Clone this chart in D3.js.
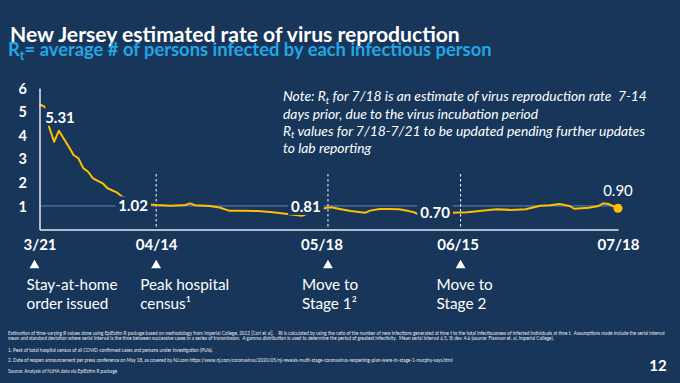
<!DOCTYPE html>
<html><head><meta charset="utf-8">
<script src="https://cdn.jsdelivr.net/npm/d3@7"></script>
<style>
html,body{margin:0;padding:0;background:#17365a;overflow:hidden;}
svg{display:block;font-family:Lato,"Open Sans",sans-serif;}
text{white-space:pre;}
</style></head><body>
<svg id="c" width="680" height="383"></svg>
<script>
// ---------- DATA ----------
const dates = ["2020-03-21","2020-03-22","2020-03-23","2020-03-24","2020-03-25","2020-03-26","2020-03-27","2020-03-28","2020-03-29","2020-03-30","2020-03-31","2020-04-01",
"2020-04-03","2020-04-04","2020-04-06","2020-04-07","2020-04-09","2020-04-11","2020-04-13","2020-04-14",
"2020-04-17","2020-04-20","2020-04-21","2020-04-22","2020-04-25","2020-04-27","2020-04-29",
"2020-05-02","2020-05-05","2020-05-08","2020-05-11","2020-05-14","2020-05-16","2020-05-19","2020-05-20","2020-05-22","2020-05-24","2020-05-27","2020-05-28","2020-05-30",
"2020-06-01","2020-06-03","2020-06-05","2020-06-06","2020-06-07","2020-06-10","2020-06-12","2020-06-14","2020-06-17","2020-06-20","2020-06-23","2020-06-26","2020-06-29",
"2020-07-02","2020-07-04","2020-07-06","2020-07-08","2020-07-09","2020-07-12","2020-07-14","2020-07-15","2020-07-16","2020-07-18"];
const rtValues = [5.31,5.21,4.33,3.72,4.19,3.85,3.52,3.16,3.02,2.60,2.45,2.17,
1.96,1.75,1.56,1.39,1.25,1.14,1.06,1.04,
1.01,1.04,1.11,1.03,1.00,0.93,0.80,
0.80,0.78,0.73,0.66,0.58,0.75,0.92,0.94,0.86,0.78,0.71,0.80,0.87,
0.87,0.86,0.78,0.73,0.64,0.62,0.67,0.71,0.73,0.80,0.86,0.83,0.86,
1.01,1.03,1.08,1.00,0.88,0.92,1.00,1.11,1.08,0.90];
const yTicks = [1,2,3,4,5,6];
const xTickDates = ["2020-03-21","2020-04-14","2020-05-18","2020-06-15","2020-07-18"];
const xTickLabels = ["3/21","04/14","05/18","06/15","07/18"];
const calloutDates = ["2020-03-21","2020-04-14","2020-05-18","2020-06-15","2020-07-18"];
const calloutValues = [5.31,1.02,0.81,0.70,0.90];
const eventDates = ["2020-03-21","2020-04-14","2020-05-18","2020-06-15"];
const eventLines = [["Stay-at-home","order issued"],["Peak hospital","census¹"],["Move to","Stage 1²"],["Move to","Stage 2"]];
const referenceValue = 1;
const titleText = "New Jersey estimated rate of virus reproduction";
const subtitleText = "= average # of persons infected by each infectious person";
const noteLines = [
  ["Note: R","t"," for 7/18 is an estimate of virus reproduction rate  7-14"],
  ["days prior, due to the virus incubation period"],
  ["R","t"," values for 7/18-7/21 to be updated pending further updates"],
  ["to lab reporting"]
];
const footnotes = [
"Estimation of time-varying R values done using EpiEstim R package based on methodology from Imperial College, 2013 [Cori et al].    Rt is calculated by using the ratio of the number of new infections generated at time t to the total infectiousness of infected individuals at time t.  Assumptions made include the serial interval",
"mean and standard deviation where serial interval is the time between successive cases in a series of transmission.  A gamma distribution is used to determine the period of greatest infectivity.  Mean serial interval 6.5, St dev. 4.6 (source: Flaxman et. al, Imperial College).",
"1. Peak of total hospital census of all COVID-confirmed cases and persons under investigation (PUIs).",
"2. Date of reopen announcement per press conference on May 18, as covered by NJ.com https://www.nj.com/coronavirus/2020/05/nj-reveals-multi-stage-coronavirus-reopening-plan-were-in-stage-1-murphy-says.html",
"Source: Analysis of NJHA data via EpiEstim R package"
];
const pageNumber = "12";

// ---------- LAYOUT / STYLE ----------
const BG = "#17365a", YELLOW = "#ffc000", REF = "#3f6496", AXIS = "#e3e9f0", SUB = "#22a6e6";
const parse = d3.timeParse("%Y-%m-%d");
const series = dates.map((d,i)=>({date:parse(d), v:rtValues[i]}));
const svg = d3.select("#c");
svg.append("rect").attr("width",680).attr("height",383).attr("fill",BG);

const x = d3.scaleTime().domain([parse("2020-03-21"), parse("2020-07-18")]).range([39.5, 618]);
const y = d3.scaleLinear().domain([0,6]).range([229.5, 88]);

function fit(sel, target){
  const w = sel.node().getComputedTextLength();
  const fs = parseFloat(sel.attr("font-size"));
  sel.attr("font-size", (fs*target/w).toFixed(2));
}
// append "R" + subscript "t" + rest using dy shifts
function withSub(t, parts){
  parts.forEach((p,j)=>{
    const ts = t.append("tspan").text(p);
    if(parts.length===3 && j===1) ts.attr("font-size","0.7em").attr("dy","0.3em");
    if(parts.length===3 && j===2) ts.attr("dy","-0.21em");
  });
}

// title
const t1 = svg.append("text").attr("x",10).attr("y",42).attr("fill","#fff")
  .attr("font-weight",700).attr("font-size",22).text(titleText);
fit(t1, 450);
const t2 = svg.append("text").attr("x",8).attr("y",56).attr("fill",SUB)
  .attr("font-weight",700).attr("font-size",20);
withSub(t2, ["R","t",subtitleText]);
fit(t2, 484);

// note
const noteY = [101,118.5,135.5,152.5];
let noteFs = 14;
noteLines.forEach((parts,i)=>{
  const t = svg.append("text").attr("x",283).attr("y",noteY[i]).attr("fill","#fff")
    .attr("font-style","italic").attr("font-size",noteFs);
  withSub(t, parts);
  if(i===0){ fit(t,364); noteFs = +t.attr("font-size"); }
});

// reference line at 1
svg.append("line").attr("x1",x.range()[0]).attr("x2",x.range()[1])
  .attr("y1",y(referenceValue)).attr("y2",y(referenceValue))
  .attr("stroke",REF).attr("stroke-width",1.6);

// dashed event lines (skip first)
const eventNudge = [-5, 0, 6.5, 3];
const ex = i => x(parse(eventDates[i])) + eventNudge[i];
eventDates.forEach((d,i)=>{
  if(i===0) return;
  svg.append("line").attr("x1",ex(i)).attr("x2",ex(i)).attr("y1",174).attr("y2",229)
    .attr("stroke","#fff").attr("stroke-width",1).attr("stroke-dasharray","2.5,2.5");
});

// line
svg.append("path").datum(series)
  .attr("d", d3.line().x(d=>x(d.date)).y(d=>y(d.v)))
  .attr("fill","none").attr("stroke",YELLOW).attr("stroke-width",2).attr("stroke-linejoin","round");
const last = series[series.length-1];
svg.append("circle").attr("cx",x(last.date)).attr("cy",y(last.v)).attr("r",4.5).attr("fill",YELLOW);

// axes
const yAx = svg.append("g").attr("transform","translate(39.5,0)")
  .call(d3.axisLeft(y).tickValues(yTicks).tickFormat(d3.format("d")).tickSize(0).tickSizeOuter(0).tickPadding(12.5));
yAx.select(".domain").attr("stroke",AXIS).attr("stroke-width",1.5);
yAx.selectAll("text").attr("fill","#fff").attr("font-size",14.5).attr("font-weight",700)
  .attr("font-family","Lato").attr("dy","0.36em");
const xAx = svg.append("g").attr("transform","translate(0,229.5)")
  .call(d3.axisBottom(x).tickValues(xTickDates.map(parse)).tickFormat((d,i)=>xTickLabels[i])
    .tickSize(0).tickSizeOuter(0).tickPadding(10));
xAx.select(".domain").attr("stroke",AXIS).attr("stroke-width",1.5);
xAx.selectAll("text").attr("fill","#fff").attr("font-size",15).attr("font-weight",700)
  .attr("font-family","Lato");

// callouts
const calloutOffset = [[20.5,13],[-23,0],[-15.5,-4],[-22.5,0],[0,-18]];
calloutValues.forEach((v,i)=>{
  const cx = x(parse(calloutDates[i])) + calloutOffset[i][0];
  const cy = y(v) + calloutOffset[i][1];
  const g = svg.append("g");
  const r = g.append("rect").attr("fill",BG);
  const t = g.append("text").attr("x",cx).attr("y",cy).attr("dy","0.36em")
    .attr("text-anchor","middle").attr("fill","#fff").attr("font-size",15)
    .attr("font-weight", i===4 ? 400 : 700).text(v.toFixed(2));
  const w = t.node().getComputedTextLength();
  r.attr("x",cx-w/2-3).attr("y",cy-9).attr("width",w+6).attr("height",17.5);
});

// event triangles + annotation text
const annDx = [-8,-16,-26,-24];
const annFs = 16;
eventDates.forEach((d,i)=>{
  const tx = ex(i);
  svg.append("path").attr("d", d3.symbol(d3.symbolTriangle, 42)())
    .attr("transform",`translate(${tx},265.5)`).attr("fill","#fff");
  eventLines[i].forEach((ln,j)=>{
    svg.append("text").attr("class","ann").attr("x",tx+annDx[i]).attr("y",289.5+j*19.5)
      .attr("fill","#fff").attr("font-size",annFs).text(ln);
  });
});
const a0 = svg.select("text.ann");
const aw = a0.node().getComputedTextLength();
svg.selectAll("text.ann").attr("font-size",(annFs*91/aw).toFixed(2));

// footnotes
const fnY = [335,340,352,362,373];
const f0 = svg.append("text").attr("x",8).attr("y",fnY[0]).attr("fill","#e6ebf1").attr("font-size",5).text(footnotes[0]);
fit(f0, 657);
const ffs = f0.attr("font-size");
footnotes.slice(1).forEach((f,i)=>{
  svg.append("text").attr("x",8).attr("y",fnY[i+1]).attr("fill","#e6ebf1").attr("font-size",ffs).text(f);
});

svg.append("text").attr("x",658).attr("y",371).attr("text-anchor","middle").attr("fill","#fff")
  .attr("font-weight",700).attr("font-size",15).text(pageNumber);
</script>
</body></html>
